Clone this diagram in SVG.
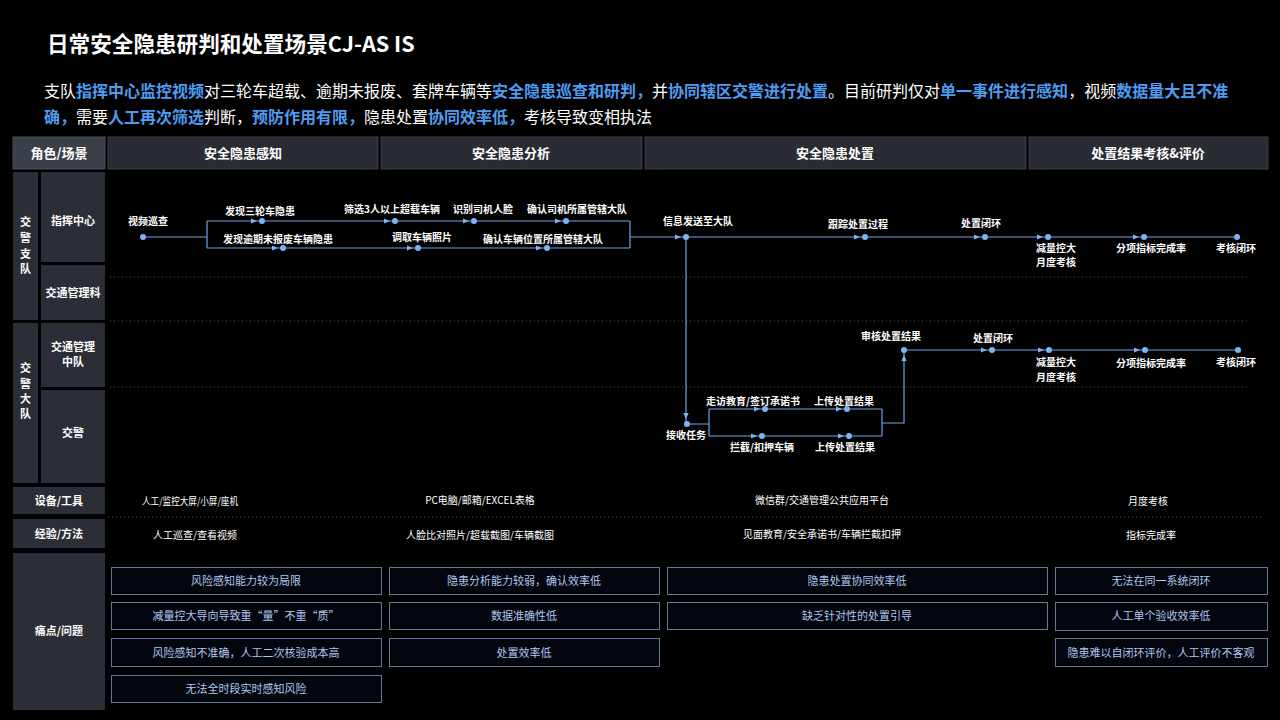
<svg xmlns="http://www.w3.org/2000/svg" xmlns:xlink="http://www.w3.org/1999/xlink" width="1280" height="720" viewBox="0 0 1280 720">
<style>
text{font-family:"Noto Sans CJK SC","Liberation Sans",sans-serif}
.title{font-size:21.6px;font-weight:bold;fill:#fff}
.para{font-size:16px;fill:#fff}
.hl{fill:#4f9cf0;font-weight:bold}
.hcell{fill:#2a2c33;stroke:#3a3d45;stroke-width:1}
.hcell0{fill:#3b3f4a;stroke:#4a4f5a;stroke-width:1}
.htxt{font-size:13px;font-weight:bold;fill:#fff;text-anchor:middle}
.cell{fill:#2b2e36}
.ltxt{font-size:11px;font-weight:bold;fill:#fff;text-anchor:middle}
.ntxt{font-size:10px;font-weight:bold;fill:#fff;text-anchor:middle}
.ttxt{font-size:10px;fill:#fff;text-anchor:middle}
.flow{fill:none;stroke:#6ea3e6;stroke-width:1.2}
.dot{fill:#7fb2f2}
.ah{fill:#7fb2f2}
.sep{stroke:#5a5d66;stroke-width:1;stroke-dasharray:1 3}
.pbox{fill:#03060c;stroke:#66789a;stroke-width:1}
.ptxt{font-size:11px;fill:#b0c8ee;text-anchor:middle}
</style>
<defs>
<path id="ar" d="M-6,-2.6 L0,0 L-6,2.6 Z"/>
<path id="ad" d="M-2.6,-6 L0,0 L2.6,-6 Z"/>
<path id="au" d="M-2.6,6 L0,0 L2.6,6 Z"/>
</defs>
<rect x="0" y="0" width="1280" height="720" fill="#000"/>

<g id="title">
<text class="title" x="47" y="52">日常安全隐患研判和处置场景CJ-AS IS</text>
</g>
<g id="description">
<text class="para" x="44" y="97">支队<tspan class="hl">指挥中心监控视频</tspan>对三轮车超载、逾期未报废、套牌车辆等<tspan class="hl">安全隐患巡查和研判，</tspan>并<tspan class="hl">协同辖区交警进行处置</tspan>。目前研判仅对<tspan class="hl">单一事件进行感知</tspan>，视频<tspan class="hl">数据量大且不准</tspan></text>
<text class="para" x="44" y="123"><tspan class="hl">确，</tspan>需要<tspan class="hl">人工再次筛选</tspan>判断，<tspan class="hl">预防作用有限，</tspan>隐患处置<tspan class="hl">协同效率低，</tspan>考核导致变相执法</text>
</g>

<g id="header">
<rect class="hcell0" x="13" y="137" width="92" height="32"/>
<text class="htxt" x="59" y="158">角色/场景</text>
<rect class="hcell" x="108" y="137" width="270" height="32"/>
<text class="htxt" x="243" y="158">安全隐患感知</text>
<rect class="hcell" x="381" y="137" width="261" height="32"/>
<text class="htxt" x="511" y="158">安全隐患分析</text>
<rect class="hcell" x="645" y="137" width="381" height="32"/>
<text class="htxt" x="835" y="158">安全隐患处置</text>
<rect class="hcell" x="1029" y="137" width="239" height="32"/>
<text class="htxt" x="1148" y="158">处置结果考核&amp;评价</text>
</g>

<g id="roles">
<rect class="cell" x="13" y="172" width="25" height="148"/>
<text class="ltxt" x="25.5" y="226">交</text>
<text class="ltxt" x="25.5" y="242">警</text>
<text class="ltxt" x="25.5" y="258">支</text>
<text class="ltxt" x="25.5" y="273">队</text>
<rect class="cell" x="13" y="323" width="25" height="160"/>
<text class="ltxt" x="25.5" y="372">交</text>
<text class="ltxt" x="25.5" y="388">警</text>
<text class="ltxt" x="25.5" y="403">大</text>
<text class="ltxt" x="25.5" y="418">队</text>
<rect class="cell" x="41" y="172" width="64" height="90"/>
<text class="ltxt" x="73" y="225">指挥中心</text>
<rect class="cell" x="41" y="265" width="64" height="55"/>
<text class="ltxt" x="73" y="297">交通管理科</text>
<rect class="cell" x="41" y="323" width="64" height="64"/>
<text class="ltxt" x="73" y="351">交通管理</text>
<text class="ltxt" x="73" y="366">中队</text>
<rect class="cell" x="41" y="390" width="64" height="93"/>
<text class="ltxt" x="73" y="437">交警</text>
</g>

<g id="separators">
<line class="sep" x1="110" y1="277" x2="1250" y2="277"/>
<line class="sep" x1="110" y1="321" x2="1250" y2="321"/>
<line class="sep" x1="110" y1="387" x2="1250" y2="387"/>
<line class="sep" x1="108" y1="517" x2="1262" y2="517"/>
</g>

<g id="connectors">
<path class="flow" d="M143,237 H207 M207,221 V248 M207,221 H630 M207,248 H630 M630,221 V248 M630,237 H1237"/>
<path class="flow" d="M686,237 V424 M687,424 H709 M709,409 V436 M709,409 H882 M709,436 H882 M882,409 V436 M882,423 H904 V350 M904,350 H1238"/>
<use href="#ar" class="ah" x="257" y="221"/>
<use href="#ar" class="ah" x="390" y="221"/>
<use href="#ar" class="ah" x="469" y="221"/>
<use href="#ar" class="ah" x="561" y="221"/>
<use href="#ar" class="ah" x="278" y="248"/>
<use href="#ar" class="ah" x="413" y="248"/>
<use href="#ar" class="ah" x="542" y="248"/>
<use href="#ar" class="ah" x="681" y="237"/>
<use href="#ar" class="ah" x="860" y="237"/>
<use href="#ar" class="ah" x="980" y="237"/>
<use href="#ar" class="ah" x="1043" y="237"/>
<use href="#ar" class="ah" x="1139" y="237"/>
<use href="#ad" class="ah" x="686" y="419"/>
<use href="#ar" class="ah" x="760" y="409"/>
<use href="#ar" class="ah" x="842" y="409"/>
<use href="#ar" class="ah" x="757" y="436"/>
<use href="#ar" class="ah" x="844" y="436"/>
<use href="#au" class="ah" x="904" y="355"/>
<use href="#ar" class="ah" x="987" y="350"/>
<use href="#ar" class="ah" x="1044" y="350"/>
<use href="#ar" class="ah" x="1140" y="350"/>
</g>

<g id="n-video"><circle class="dot" cx="143" cy="237" r="3"/><text class="ntxt" x="148" y="225">视频巡查</text></g>
<g id="n-tricycle"><circle class="dot" cx="262" cy="221" r="3"/><text class="ntxt" x="260" y="215">发现三轮车隐患</text></g>
<g id="n-filter"><circle class="dot" cx="395" cy="221" r="3"/><text class="ntxt" x="392" y="213">筛选3人以上超载车辆</text></g>
<g id="n-face"><circle class="dot" cx="474" cy="221" r="3"/><text class="ntxt" x="483" y="213">识别司机人脸</text></g>
<g id="n-driver-team"><circle class="dot" cx="566" cy="221" r="3"/><text class="ntxt" x="577" y="213">确认司机所属管辖大队</text></g>
<g id="n-expired"><circle class="dot" cx="283" cy="248" r="3"/><text class="ntxt" x="278" y="243">发现逾期未报废车辆隐患</text></g>
<g id="n-photo"><circle class="dot" cx="418" cy="248" r="3"/><text class="ntxt" x="422" y="241">调取车辆照片</text></g>
<g id="n-vehicle-team"><circle class="dot" cx="547" cy="248" r="3"/><text class="ntxt" x="543" y="243">确认车辆位置所属管辖大队</text></g>
<g id="n-send"><circle class="dot" cx="686" cy="237" r="3"/><text class="ntxt" x="698" y="225">信息发送至大队</text></g>
<g id="n-track"><circle class="dot" cx="865" cy="237" r="3"/><text class="ntxt" x="858" y="228">跟踪处置过程</text></g>
<g id="n-close1"><circle class="dot" cx="985" cy="237" r="3"/><text class="ntxt" x="981" y="227">处置闭环</text></g>
<g id="n-monthly1"><circle class="dot" cx="1048" cy="237" r="3"/><text class="ntxt" x="1056" y="252">减量控大</text><text class="ntxt" x="1056" y="266">月度考核</text></g>
<g id="n-rate1"><circle class="dot" cx="1144" cy="237" r="3"/><text class="ntxt" x="1151" y="252">分项指标完成率</text></g>
<g id="n-assess1"><circle class="dot" cx="1237" cy="237" r="3"/><text class="ntxt" x="1236" y="252">考核闭环</text></g>
<g id="n-receive"><circle class="dot" cx="687" cy="424" r="3"/><text class="ntxt" x="686" y="439">接收任务</text></g>
<g id="n-visit"><circle class="dot" cx="765" cy="409" r="3"/><text class="ntxt" x="753" y="405">走访教育/签订承诺书</text></g>
<g id="n-upload1"><circle class="dot" cx="847" cy="409" r="3"/><text class="ntxt" x="844" y="405">上传处置结果</text></g>
<g id="n-intercept"><circle class="dot" cx="762" cy="436" r="3"/><text class="ntxt" x="762" y="451">拦截/扣押车辆</text></g>
<g id="n-upload2"><circle class="dot" cx="849" cy="436" r="3"/><text class="ntxt" x="845" y="451">上传处置结果</text></g>
<g id="n-review"><circle class="dot" cx="904" cy="350" r="3"/><text class="ntxt" x="891" y="340">审核处置结果</text></g>
<g id="n-close2"><circle class="dot" cx="992" cy="350" r="3"/><text class="ntxt" x="993" y="342">处置闭环</text></g>
<g id="n-monthly2"><circle class="dot" cx="1049" cy="350" r="3"/><text class="ntxt" x="1056" y="366">减量控大</text><text class="ntxt" x="1056" y="381">月度考核</text></g>
<g id="n-rate2"><circle class="dot" cx="1145" cy="350" r="3"/><text class="ntxt" x="1151" y="367">分项指标完成率</text></g>
<g id="n-assess2"><circle class="dot" cx="1238" cy="350" r="3"/><text class="ntxt" x="1236" y="366">考核闭环</text></g>

<g id="tools">
<rect class="cell" x="13" y="487" width="92" height="27"/>
<text class="ltxt" x="59" y="505">设备/工具</text>
<text class="ttxt" x="190" y="505" textLength="96" lengthAdjust="spacingAndGlyphs">人工/监控大屏/小屏/座机</text>
<text class="ttxt" x="480" y="504">PC电脑/邮箱/EXCEL表格</text>
<text class="ttxt" x="822" y="504">微信群/交通管理公共应用平台</text>
<text class="ttxt" x="1148" y="505">月度考核</text>
</g>
<g id="methods">
<rect class="cell" x="13" y="519" width="92" height="29"/>
<text class="ltxt" x="59" y="538">经验/方法</text>
<text class="ttxt" x="195" y="539">人工巡查/查看视频</text>
<text class="ttxt" x="480" y="539">人脸比对照片/超载截图/车辆截图</text>
<text class="ttxt" x="822" y="538">见面教育/安全承诺书/车辆拦截扣押</text>
<text class="ttxt" x="1151" y="539">指标完成率</text>
</g>

<g id="pain-points">
<rect class="cell" x="13" y="553" width="92" height="157"/>
<text class="ltxt" x="59" y="635">痛点/问题</text>
<rect class="pbox" x="111.5" y="567.5" width="270" height="27"/>
<text class="ptxt" x="246" y="585">风险感知能力较为局限</text>
<rect class="pbox" x="111.5" y="602.5" width="270" height="27"/>
<text class="ptxt" x="246" y="620">减量控大导向导致重“量”不重“质”</text>
<rect class="pbox" x="111.5" y="638.5" width="270" height="28"/>
<text class="ptxt" x="246" y="657">风险感知不准确，人工二次核验成本高</text>
<rect class="pbox" x="111.5" y="675.5" width="270" height="27"/>
<text class="ptxt" x="246" y="693">无法全时段实时感知风险</text>
<rect class="pbox" x="389.5" y="567.5" width="270" height="27"/>
<text class="ptxt" x="524" y="585">隐患分析能力较弱，确认效率低</text>
<rect class="pbox" x="389.5" y="602.5" width="270" height="27"/>
<text class="ptxt" x="524" y="620">数据准确性低</text>
<rect class="pbox" x="389.5" y="638.5" width="270" height="28"/>
<text class="ptxt" x="524" y="657">处置效率低</text>
<rect class="pbox" x="667.5" y="567.5" width="380" height="27"/>
<text class="ptxt" x="857" y="585">隐患处置协同效率低</text>
<rect class="pbox" x="667.5" y="602.5" width="380" height="27"/>
<text class="ptxt" x="857" y="620">缺乏针对性的处置引导</text>
<rect class="pbox" x="1055.5" y="567.5" width="212" height="27"/>
<text class="ptxt" x="1161" y="585">无法在同一系统闭环</text>
<rect class="pbox" x="1055.5" y="602.5" width="212" height="28"/>
<text class="ptxt" x="1161" y="620">人工单个验收效率低</text>
<rect class="pbox" x="1055.5" y="638.5" width="212" height="28"/>
<text class="ptxt" x="1161" y="657">隐患难以自闭环评价，人工评价不客观</text>
</g>
</svg>
